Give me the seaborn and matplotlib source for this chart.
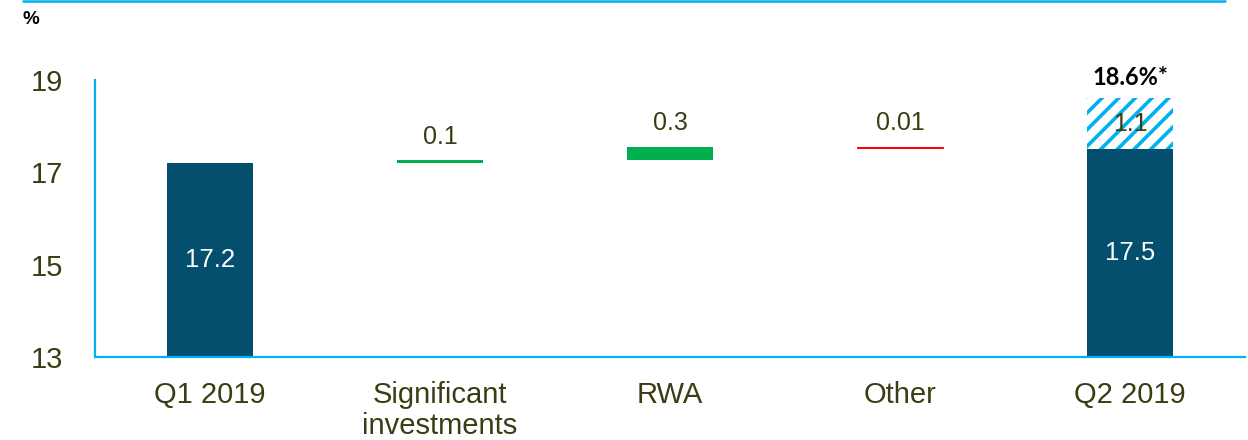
import matplotlib
matplotlib.use("Agg")
import matplotlib.pyplot as plt
import seaborn as sns
import pandas as pd
import numpy as np
from matplotlib.lines import Line2D

# ---- data ----
categories = ["Q1 2019", "Significant\ninvestments", "RWA", "Other", "Q2 2019"]
start_value = 17.2
end_value = 17.5
change_values = [0.06, 0.29, -0.02]          # drawn heights
change_labels = ["0.1", "0.3", "0.01"]
addon_value = 1.1
total_label = "18.6%*"
y_ticks = [13, 15, 17, 19]

# ---- style ----
sns.set_theme(style="white")
plt.rcParams["font.family"] = ["Liberation Sans", "DejaVu Sans"]
plt.rcParams["hatch.linewidth"] = 2.6

NAVY = "#044E6E"
CYAN = "#00B0F0"
GREEN = "#00B050"
RED = "#FF0000"
OLIVE = "#3C3C14"

fig = plt.figure(figsize=(12.48, 4.40), dpi=100)
ax = fig.add_axes([95 / 1248, 83 / 440, 1150 / 1248, 277 / 440])

df = pd.DataFrame({"cat": [categories[0], categories[-1]],
                   "val": [start_value, end_value]})
sns.barplot(data=df, x="cat", y="val", order=categories, color=NAVY,
            saturation=1, width=0.374, ax=ax, linewidth=0)

# floating change bars
bottom = start_value
change_colors = [GREEN if v >= 0 else RED for v in change_values]
for i, (v, lab, c) in enumerate(zip(change_values, change_labels, change_colors), start=1):
    b = bottom if v >= 0 else bottom + v
    lw = 0 if v >= 0 else 0.7
    ax.bar(i, abs(v), bottom=b, width=0.374, color=c, edgecolor=c, linewidth=lw)
    top = b + abs(v)
    ax.annotate(lab, xy=(i, top), xytext=(0, 17), textcoords="offset points",
                ha="center", va="center", fontsize=18, color=OLIVE)
    bottom = bottom + v

# hatched add-on on Q2
ax.bar(4, addon_value, bottom=end_value, width=0.374, color="white",
       edgecolor=CYAN, hatch="//", linewidth=0)
ax.text(4, end_value + addon_value / 2, f"{addon_value:.1f}", ha="center",
        va="center", fontsize=18, color=OLIVE)
ax.annotate(total_label, xy=(4, end_value + addon_value), xytext=(0, 15),
            textcoords="offset points", ha="center", va="center",
            fontsize=17, fontweight="bold", color="black",
            family=["Lato", "DejaVu Sans"])

# labels inside navy bars
for xpos, val in [(0, start_value), (4, end_value)]:
    ax.text(xpos, (13 + val) / 2, f"{val:.1f}", ha="center", va="center",
            fontsize=18.5, color="white")

ax.set_ylim(13, 19)
ax.set_xlim(-0.5, 4.5)
ax.set_yticks(y_ticks)
ax.set_xlabel("")
ax.set_ylabel("")
ax.tick_params(axis="y", length=0, pad=23, labelsize=21, labelcolor=OLIVE)
ax.tick_params(axis="x", length=0, pad=17, labelsize=21, labelcolor=OLIVE)
for lab in ax.get_xticklabels():
    lab.set_linespacing(1.15)

for s in ["top", "right"]:
    ax.spines[s].set_visible(False)
for s in ["left", "bottom"]:
    ax.spines[s].set_color(CYAN)
    ax.spines[s].set_linewidth(1.6)

# decorative top rule and unit label
fig.add_artist(Line2D([23 / 1248, 1225 / 1248], [1 - 1.2 / 440] * 2,
                      transform=fig.transFigure, color=CYAN, linewidth=1.8))
fig.text(31 / 1248, 1 - 19 / 440, "%", ha="center", va="center",
         fontsize=13.5, fontweight="bold", color="black")

fig.savefig("out.png", dpi=100)
